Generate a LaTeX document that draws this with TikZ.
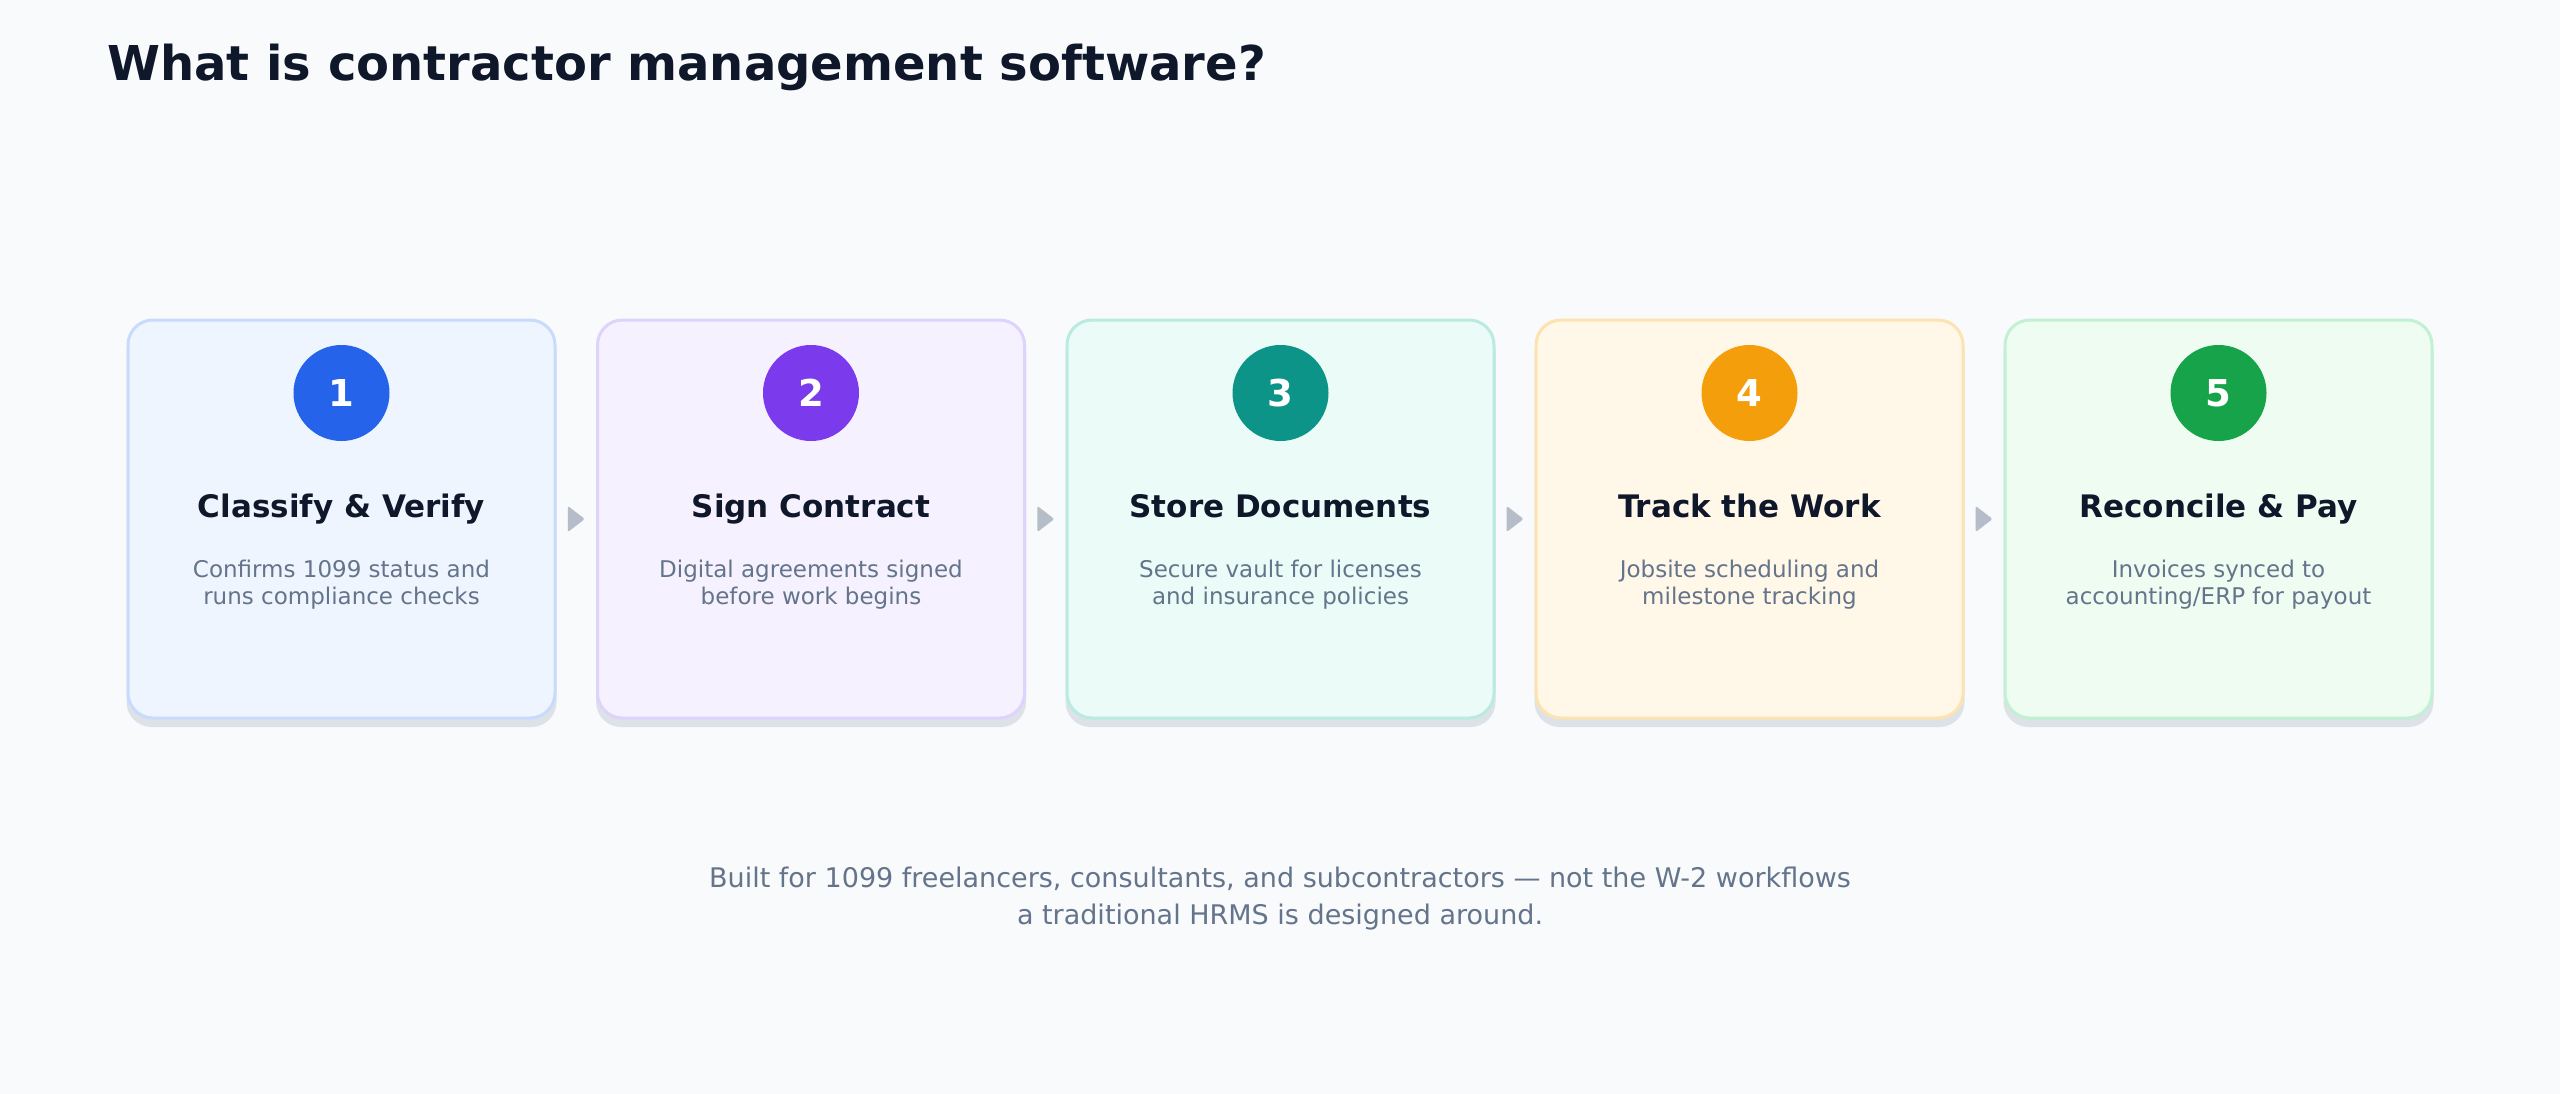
\documentclass[tikz,border=0pt]{standalone}
\usepackage{fontspec}
\setmainfont{DejaVu Sans}
\usetikzlibrary{shapes.geometric,calc}
\definecolor{bgc}{HTML}{F8FAFC}
\definecolor{titlec}{HTML}{0F172A}
\definecolor{descc}{HTML}{64748B}
\definecolor{arrowc}{HTML}{B5BDC9}
\definecolor{shadowc}{HTML}{DDE2E9}
\definecolor{fillA}{HTML}{EFF5FF}\definecolor{drawA}{HTML}{C8DBFC}\definecolor{dotA}{HTML}{2563EB}
\definecolor{fillB}{HTML}{F5F1FF}\definecolor{drawB}{HTML}{DDD3FC}\definecolor{dotB}{HTML}{7C3AED}
\definecolor{fillC}{HTML}{EBFBF7}\definecolor{drawC}{HTML}{B9EBE0}\definecolor{dotC}{HTML}{0D9488}
\definecolor{fillD}{HTML}{FFF7E8}\definecolor{drawD}{HTML}{FDE3B0}\definecolor{dotD}{HTML}{F59E0B}
\definecolor{fillE}{HTML}{EEFCF2}\definecolor{drawE}{HTML}{C2F0D3}\definecolor{dotE}{HTML}{16A34A}
\tikzset{
  cardbox/.style={rectangle, rounded corners=25pt, line width=3pt, minimum width=427pt, minimum height=398pt, inner sep=0pt},
  shadowbox/.style={rectangle, rounded corners=25pt, fill=shadowc, minimum width=430pt, minimum height=400pt, inner sep=0pt},
  numdot/.style={circle, minimum size=96pt, inner sep=0pt, text=white, font=\fontsize{37}{44}\selectfont\bfseries},
  cardtitle/.style={anchor=base, text=titlec, font=\fontsize{31}{37}\selectfont\bfseries, inner sep=0pt},
  carddesc/.style={anchor=base, text=descc, align=center, font=\fontsize{23}{27}\selectfont, inner sep=0pt},
  steparrow/.style={isosceles triangle, isosceles triangle apex angle=75, fill=arrowc, minimum height=17pt, minimum width=17pt, inner sep=0pt, rounded corners=1.5pt},
}
\begin{document}
\begin{tikzpicture}[x=1pt, y=-1pt]
\fill[bgc] (0,0) rectangle (2560,1094);
\useasboundingbox (0,0) rectangle (2560,1094);
\node[anchor=base west, text=titlec, font=\fontsize{48}{58}\selectfont\bfseries, inner sep=0pt] (title) at (107,81) {What is contractor management software?};
\foreach \i/\cx/\L/\ttl/\da/\db in {
  1/341.5/A/{Classify \& Verify}/{Confirms 1099 status and}/{runs compliance checks},
  2/811/B/{Sign Contract}/{Digital agreements signed}/{before work begins},
  3/1280.5/C/{Store Documents}/{Secure vault for licenses}/{and insurance policies},
  4/1749.5/D/{Track the Work}/{Jobsite scheduling and}/{milestone tracking},
  5/2218.5/E/{Reconcile \& Pay}/{Invoices synced to}/{accounting/ERP for payout}} {
  \node[shadowbox] (s\i) at (\cx,527) {};
  \node[cardbox, fill=fill\L, draw=draw\L] (c\i) at (\cx,519) {};
  \node[numdot, fill=dot\L] (n\i) at (\cx,393) {\i};
  \node[cardtitle] (t\i) at (\cx,517) {\ttl};
  \node[carddesc] (d\i) at (\cx,604) {\da\\\db};
}
\foreach \a/\b in {1/2,2/3,3/4,4/5} {
  \node[steparrow] (a\a) at ($(c\a.east)!0.45!(c\b.west)$) {};
}
\node[anchor=base, text=descc, align=center, font=\fontsize{27}{37}\selectfont, inner sep=0pt] (foot) at (1280,924) {Built for 1099 freelancers, consultants, and subcontractors — not the W-2 workflows\\a traditional HRMS is designed around.};
\end{tikzpicture}
\end{document}
